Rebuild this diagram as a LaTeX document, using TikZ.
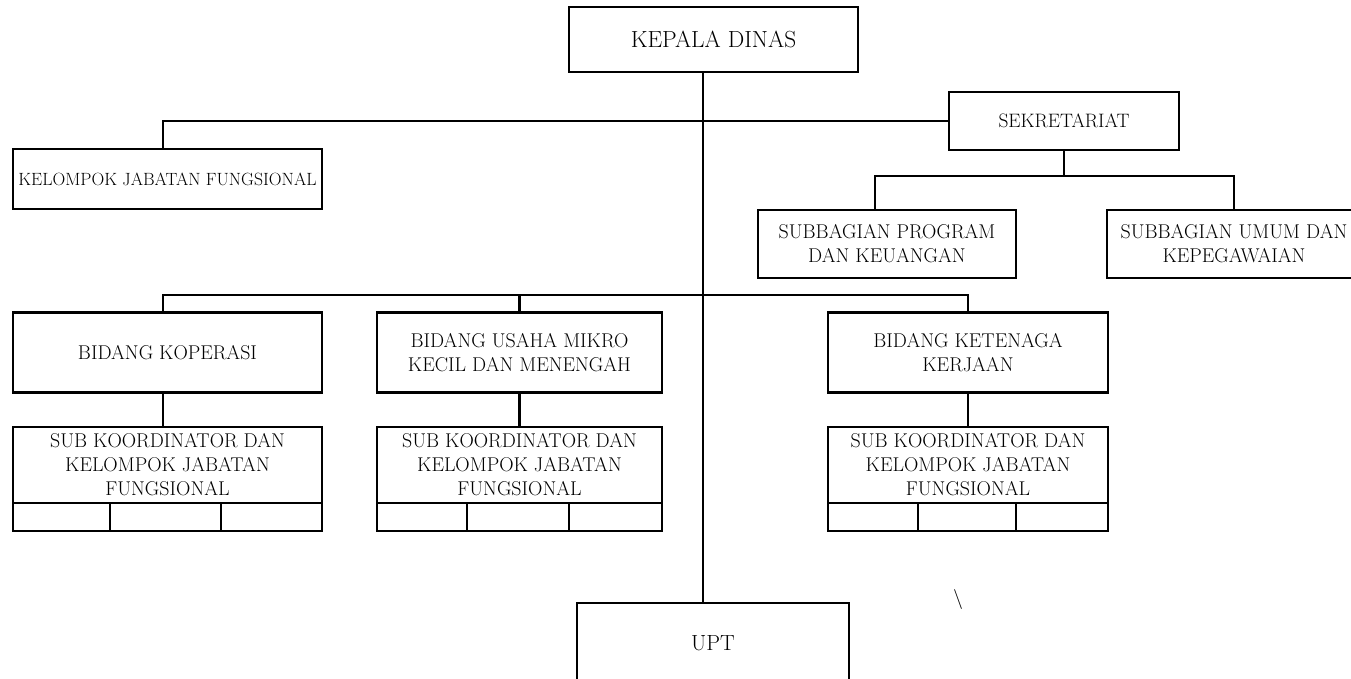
\documentclass[tikz,border=0pt]{standalone}
\usepackage{fontspec}
\begin{document}
\begin{tikzpicture}[x=1bp,y=-1bp,
  box/.style={draw, line width=2.2bp, inner sep=0pt, align=center, font=\fontsize{20}{24}\selectfont},
  thickline/.style={line width=2.4bp},
  thinline/.style={line width=1.1bp},
  ]
\useasboundingbox (0,0) rectangle (1351,678);
% boxes
\node[box, line width=1.4bp, minimum width=289bp, minimum height=65bp, font=\fontsize{23.4}{26}\selectfont] (kd) at (713.5,39.5) {KEPALA DINAS};
\node[box, line width=1.7bp, minimum width=309bp, minimum height=60bp, font=\fontsize{17.8}{20}\selectfont] (kjf) at (167.5,179) {KELOMPOK JABATAN FUNGSIONAL};
\node[box, line width=2.8bp, minimum width=230bp, minimum height=58bp, font=\fontsize{19.5}{24}\selectfont] (sek) at (1064,121) {SEKRETARIAT};
\node[box, minimum width=258bp, minimum height=68bp] (sp) at (887,244) {SUBBAGIAN PROGRAM\\DAN KEUANGAN};
\node[box, minimum width=254bp, minimum height=68bp] (su) at (1234,244) {SUBBAGIAN UMUM DAN\\KEPEGAWAIAN};
\node[box, minimum width=309bp, minimum height=80bp] (bk) at (167.5,352.5) {BIDANG KOPERASI};
\node[box, minimum width=285bp, minimum height=80bp] (bu) at (519.5,352.5) {BIDANG USAHA MIKRO\\KECIL DAN MENENGAH};
\node[box, minimum width=280bp, minimum height=80bp] (bt) at (968,352.5) {BIDANG KETENAGA\\KERJAAN};
\node[box, minimum width=309bp, minimum height=76bp] (sk1) at (167.5,465) {SUB KOORDINATOR DAN\\KELOMPOK JABATAN\\FUNGSIONAL};
\node[box, minimum width=285bp, minimum height=76bp] (sk2) at (519.5,465) {SUB KOORDINATOR DAN\\KELOMPOK JABATAN\\FUNGSIONAL};
\node[box, minimum width=280bp, minimum height=76bp] (sk3) at (968,465) {SUB KOORDINATOR DAN\\KELOMPOK JABATAN\\FUNGSIONAL};
\node[box, line width=1.1bp, minimum width=272bp, minimum height=80bp, font=\fontsize{22}{24}\selectfont] (upt) at (713,643) {UPT};
\node[inner sep=0pt, font=\fontsize{20}{22}\selectfont] (bs) at (958,600) {\textbackslash};
% strips under sub boxes
\draw[line width=2.2bp] (13,503) rectangle (322,531) (110,503) -- (110,531) (221,503) -- (221,531);
\draw[line width=2.2bp] (377,503) rectangle (662,531) (467,503) -- (467,531) (569,503) -- (569,531);
\draw[line width=2.2bp] (828,503) rectangle (1108,531) (918,503) -- (918,531) (1016,503) -- (1016,531);
% connectors
\coordinate (tr) at (703,0);
\coordinate (ax) at (163,0);
\coordinate (sj) at (0,176);
\coordinate (spx) at (875,0);
\coordinate (b2) at (0,295);
\draw[thickline] (kd.south -| tr) -- (upt.north -| tr);
\draw[thickline] (kjf.north -| ax) |- (sek.west);
\draw[thinline] (sek.south) -- (sek.south |- sj);
\draw[thickline] (sp.north -| spx) |- (su.north |- sj) -- (su.north);
\draw[thickline] (bk.north -| ax) |- (bt.north |- b2) -- (bt.north);
\draw[thickline] (bu.north) -- (bu.north |- b2);
\draw[thickline] (bk.south -| ax) -- (sk1.north -| ax);
\draw[thickline] (bu.south) -- (sk2.north);
\draw[thickline] (bt.south) -- (sk3.north);
\end{tikzpicture}
\end{document}
